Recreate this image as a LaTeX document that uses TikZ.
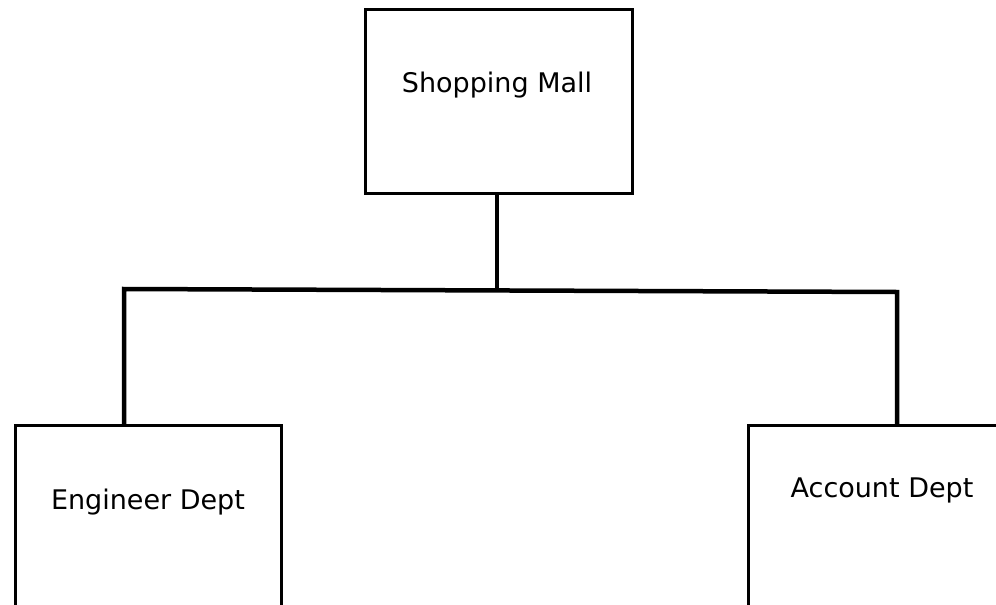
\documentclass[tikz,border=0pt]{standalone}
\usepackage{fontspec}
\setmainfont{DejaVu Sans}
\begin{document}
\begin{tikzpicture}[x=1pt,y=-1pt,
  box/.style={draw=black,line width=2.5pt,rectangle,inner sep=0pt,anchor=north west},
  lbl/.style={font=\fontsize{27}{31}\selectfont,inner sep=0pt,text=black},
  conn/.style={draw=black,line width=4.5pt}]
\useasboundingbox (0,0) rectangle (996,605);
\clip (0,0) rectangle (996,605);
\fill[white] (0,0) rectangle (996,605);
% boxes
\node[box,minimum width=267pt,minimum height=184pt] (mall) at (364,8) {};
\node[box,minimum width=266pt,minimum height=220pt] (eng) at (14,424) {};
\node[box,minimum width=270pt,minimum height=220pt] (acc) at (747,424) {};
% labels
\node[lbl] (mallt) at (497,85) {Shopping Mall};
\node[lbl] (engt) at (148,502) {Engineer Dept};
\node[lbl] (acct) at (882,490) {Account Dept};
% connector junctions
\coordinate (jl) at (124,289);
\coordinate (jr) at (897,292);
\coordinate (jm) at (497,290.4);
\draw[conn] (mall.south -| jm) -- (jm);
\draw[conn,line join=miter] (jl |- eng.north) -- (jl) -- (jr) -- (jr |- acc.north);
\end{tikzpicture}
\end{document}
